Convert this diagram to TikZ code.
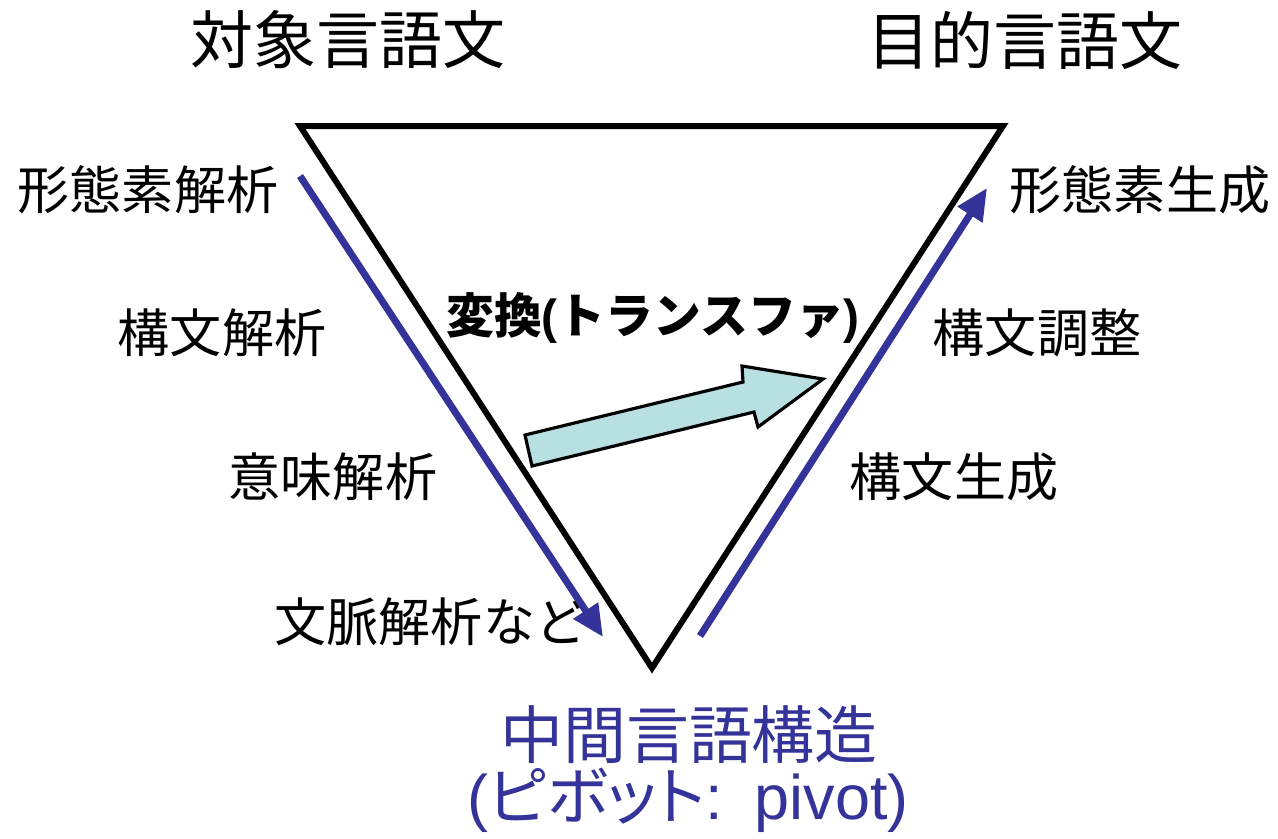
\documentclass[tikz,border=0pt]{standalone}
\usepackage{fontspec}
\setmainfont{Noto Sans CJK JP}
\newfontfamily\latinsans{Liberation Sans}
\newfontfamily\cjkprop[RawFeature=+palt]{Noto Sans CJK JP}
\usetikzlibrary{arrows.meta}
\definecolor{pivotblue}{HTML}{333399}
\definecolor{xfer}{HTML}{B8DFE2}
\begin{document}
\begin{tikzpicture}[x=0.01cm,y=-0.01cm,
  big/.style={font=\fontsize{17.9}{20}\selectfont, inner sep=0pt},
  lab/.style={font=\fontsize{14.8}{17}\selectfont, inner sep=0pt},
  flow/.style={pivotblue, line width=2pt, -{Triangle[length=9pt,width=8pt]}},
  tri/.style={line width=1.7pt, line join=miter}]
\useasboundingbox (0,0) rectangle (1278,838);
% triangle
\coordinate (tl) at (300,126);
\coordinate (tr) at (1003,126);
\coordinate (bt) at (652,668);
\draw[tri] (tl) -- (tr) -- (bt) -- cycle;
% titles
\node[big] (src) at (348,40) {対象言語文};
\node[big] (tgt) at (1025,40) {目的言語文};
% left labels
\node[lab] (l1) at (148,190) {形態素解析};
\node[lab] (l2) at (222,333) {構文解析};
\node[lab] (l3) at (333,477) {意味解析};
\node[lab] (l4) at (431,622) {文脈解析など};
% right labels
\node[lab] (r1) at (1140,190) {形態素生成};
\node[lab] (r2) at (1037,333) {構文調整};
\node[lab] (r3) at (954,477) {構文生成};
% transfer
\node[inner sep=0pt, font=\fontsize{13.6}{16}\selectfont\bfseries] (xf) at (653,318) {変換{\latinsans\bfseries(}トランスファ{\latinsans\bfseries)}};
\draw[fill=xfer, line width=0.9pt, line join=miter]
  (525,435) -- (743,382) -- (742,366) -- (823,379) -- (758,427) -- (754,412) -- (532,466) -- cycle;
% flows
\coordinate (a1s) at (300,176);
\coordinate (a1e) at (603,637);
\coordinate (a2s) at (700,636);
\coordinate (a2e) at (987,188);
\draw[flow] (a1s) -- (a1e);
\draw[flow] (a2s) -- (a2e);
% pivot
\node[big, text=pivotblue] (piv) at (689,735) {中間言語構造};
\node[big, text=pivotblue] (piv2) at (688,800) {{\latinsans(}{\cjkprop ピボット}{\latinsans:\hspace{0.5em}pivot)}};
\end{tikzpicture}
\end{document}
